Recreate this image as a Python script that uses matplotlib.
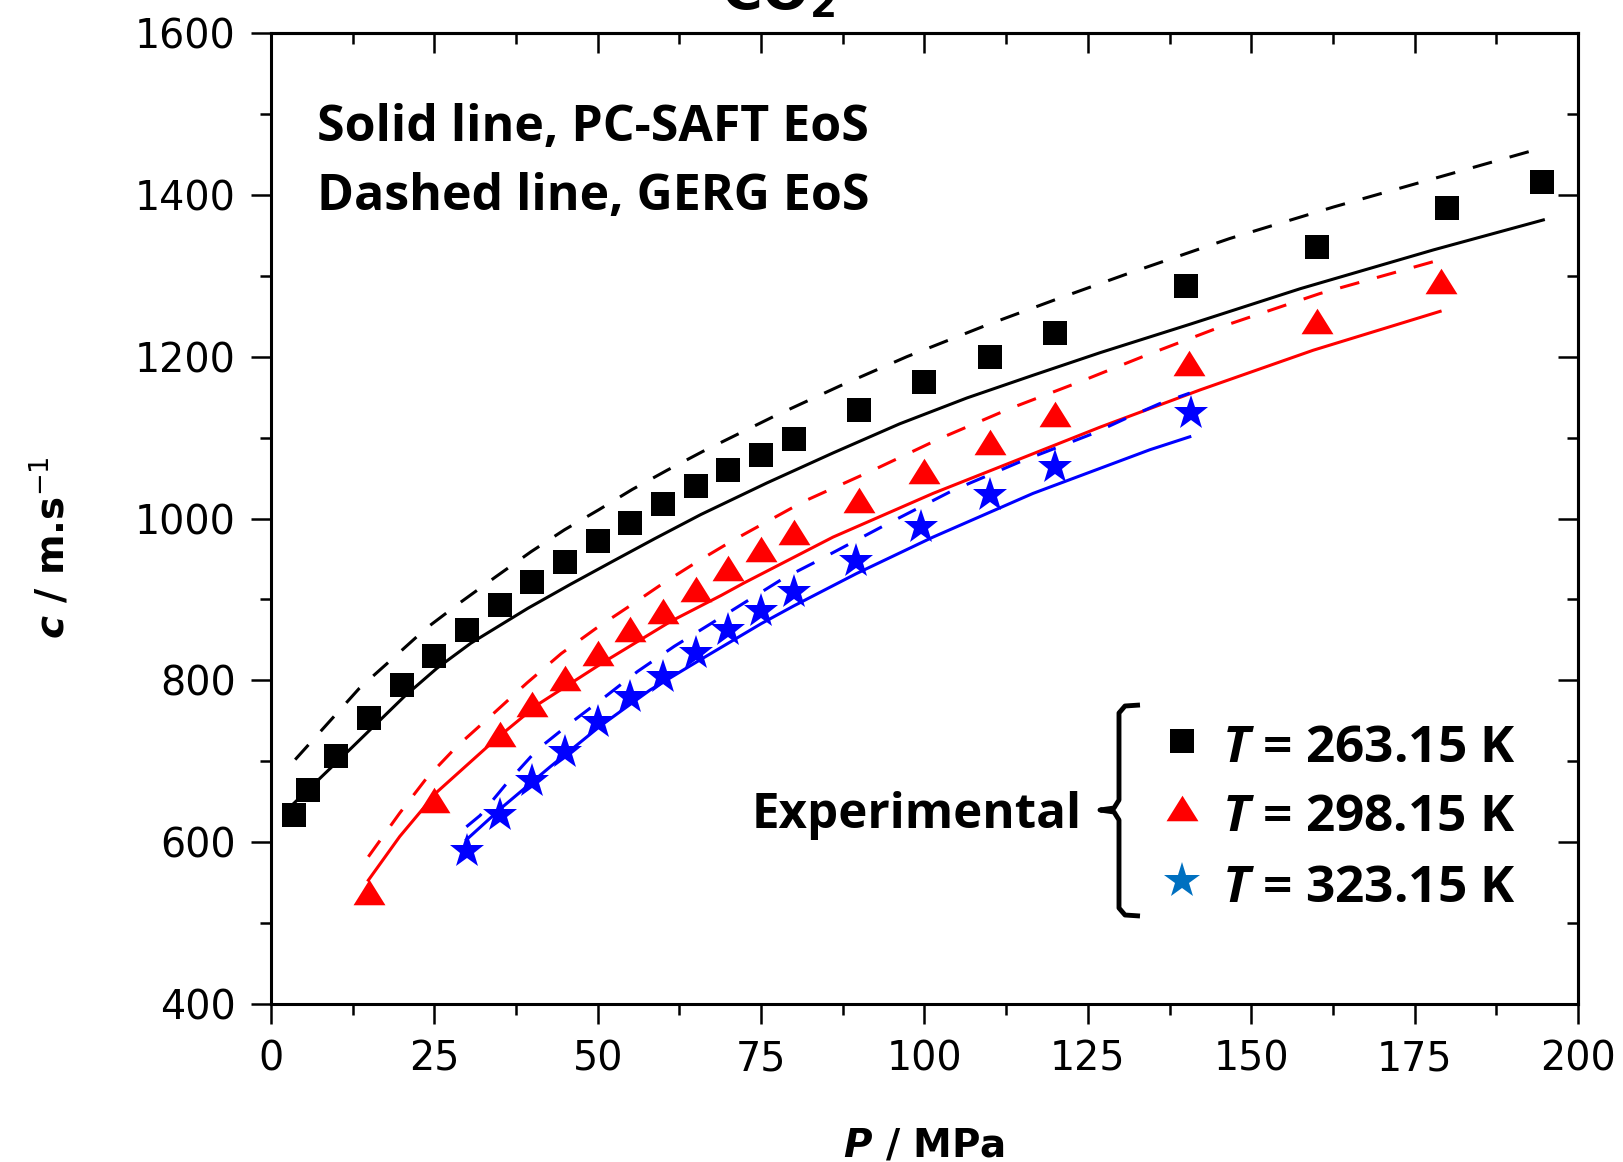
import numpy as np
import matplotlib.pyplot as plt
from matplotlib.ticker import MultipleLocator

plt.rcParams['mathtext.fontset'] = 'custom'
plt.rcParams['mathtext.it'] = 'Open Sans:italic:bold'
plt.rcParams['mathtext.bf'] = 'DejaVu Sans:italic:bold'
plt.rcParams['mathtext.rm'] = 'DejaVu Sans:bold'
plt.rcParams['mathtext.sf'] = 'DejaVu Sans'

# experimental speed of sound, c / m.s-1 vs P / MPa
p_263 = [3.5, 5.7, 10, 15, 20, 25, 30, 35, 40, 45, 50, 55, 60, 65, 70, 75, 80,
         90, 100, 110, 120, 140, 160, 180, 194.5]
c_263 = [634, 664, 706, 753, 794, 830, 862, 893, 921, 946, 972, 995, 1018, 1040,
         1060, 1079, 1098, 1134, 1169, 1200, 1229, 1287, 1335, 1384, 1416]

p_298 = [15, 25, 35, 40, 45, 50, 55, 60, 65, 70, 75, 80, 90, 100, 110, 120,
         140.5, 160, 179]
c_298 = [538, 652, 734, 771, 803, 834, 863, 886, 913, 939, 962, 983, 1023, 1059,
         1095, 1129, 1192, 1244, 1294]

p_323 = [30, 35, 40, 45, 50, 55, 60, 65, 70, 75, 80, 89.5, 99.5, 110, 120, 140.8]
c_323 = [589, 634, 676, 712, 748, 779, 804, 834, 862, 886, 909, 948, 990, 1029,
         1064, 1131]

# PC-SAFT (solid)
ps_263 = [3.5, 7.5, 12, 20.4, 25.4, 30.6, 39.3, 45.9, 52.5, 58.7, 65.8, 75.9, 86,
          96.2, 106.5, 116.6, 126.9, 140.6, 157.5, 177.9, 194.7]
cs_263 = [648, 679, 714, 780, 815, 846, 889, 919, 948, 975, 1005, 1044, 1081,
          1117, 1149, 1177, 1205, 1240, 1284, 1332, 1369]
ps_298 = [14.9, 19.7, 25.4, 34.5, 40.8, 51, 61.2, 68.9, 72.3, 86, 101.3, 116.6,
          126.9, 142.2, 159.5, 178.9]
cs_298 = [553, 607, 662, 728, 770, 823, 873, 905, 920, 977, 1031, 1080, 1113,
          1159, 1208, 1256]
ps_323 = [29.9, 35.5, 42.7, 50.3, 58, 65.6, 75, 80, 89.6, 101.3, 116.6, 134.5, 140.6]
cs_323 = [603, 644, 693, 743, 788, 825, 870, 892, 932, 977, 1031, 1085, 1101]

# GERG (dashed)
pd_263 = [3.7, 13.5, 18.9, 23.7, 29.1, 34.4, 39.8, 44.9, 50.2, 55.3, 60.7, 66.1,
          76.9, 87.1, 97.3, 109.5, 120.2, 130.9, 146.7, 162.6, 177.9, 194.5]
cd_263 = [702, 790, 829, 864, 897, 928, 959, 986, 1011, 1036, 1060, 1083, 1126,
          1164, 1200, 1239, 1271, 1302, 1346, 1385, 1420, 1458]
pd_298 = [14.9, 19.7, 23.8, 28.4, 33.5, 39.2, 44.4, 49.7, 55.1, 60.2, 65.5, 70.7,
          81.5, 92.2, 102.4, 113.1, 123.8, 134, 144.7, 160.5, 179]
cd_298 = [582, 636, 679, 718, 755, 797, 833, 864, 893, 921, 948, 973, 1021, 1060,
          1099, 1136, 1169, 1202, 1235, 1278, 1320]
pd_323 = [29.9, 32, 36.1, 40.7, 45.8, 51.5, 56.1, 61.7, 67.3, 78.4, 83, 94, 104.4,
          114.6, 125.8, 130.9, 136, 140.6]
cd_323 = [619, 633, 673, 714, 747, 782, 811, 842, 870, 926, 945, 992, 1035, 1070,
          1105, 1124, 1142, 1155]

legend_labels = ['$T$ = 263.15 K', '$T$ = 298.15 K', '$T$ = 323.15 K']

fig = plt.figure(figsize=(16.23, 11.62), dpi=100)
ax = fig.add_axes([0.16697, 0.13597, 0.80530, 0.83563])

dash = (0, (6.5, 6))
ax.plot(ps_263, cs_263, color='black', lw=2.2, zorder=2)
ax.plot(pd_263, cd_263, color='black', lw=2.2, ls=dash, zorder=2)
ax.plot(ps_298, cs_298, color='red', lw=2.2, zorder=2)
ax.plot(pd_298, cd_298, color='red', lw=2.2, ls=dash, zorder=2)
ax.plot(ps_323, cs_323, color='blue', lw=2.2, zorder=2)
ax.plot(pd_323, cd_323, color='blue', lw=2.2, ls=dash, zorder=2)

tri = [(0, 0.8), (-1, -0.8), (1, -0.8), (0, 0.8)]
ax.plot(p_263, c_263, ls='none', marker='s', ms=17.5, color='black', mew=0, zorder=3)
ax.plot(p_298, c_298, ls='none', marker=tri, ms=23, color='red', mew=0, zorder=3)
ax.plot(p_323, c_323, ls='none', marker='*', ms=26, color='blue', mew=0, zorder=3)

ax.set_xlim(0, 200)
ax.set_ylim(400, 1600)
ax.xaxis.set_major_locator(MultipleLocator(25))
ax.xaxis.set_minor_locator(MultipleLocator(12.5))
ax.yaxis.set_major_locator(MultipleLocator(200))
ax.yaxis.set_minor_locator(MultipleLocator(100))
ax.tick_params(which='major', direction='out', length=14.4, width=1.8,
               labelsize=28.5, pad=11)
ax.tick_params(which='minor', direction='out', length=8, width=1.8)
for s in ax.spines.values():
    s.set_linewidth(2.2)

# inward ticks on top and right
top = ax.secondary_xaxis('top')
top.xaxis.set_major_locator(MultipleLocator(25))
top.xaxis.set_minor_locator(MultipleLocator(12.5))
top.tick_params(which='major', direction='in', length=14.4, width=1.8, labeltop=False)
top.tick_params(which='minor', direction='in', length=8, width=1.8)
right = ax.secondary_yaxis('right')
right.yaxis.set_major_locator(MultipleLocator(200))
right.yaxis.set_minor_locator(MultipleLocator(100))
right.tick_params(which='major', direction='in', length=14.4, width=1.8, labelright=False)
right.tick_params(which='minor', direction='in', length=8, width=1.8)
for s in list(top.spines.values()) + list(right.spines.values()):
    s.set_linewidth(2.2)

ax.set_xlabel(r'$\mathbf{P}$ / MPa', fontsize=28, fontweight='bold')
ax.set_ylabel(r'$\mathbf{c}$ / m.s$^{\mathsf{-1}}$', fontsize=28, fontweight='bold')
ax.xaxis.set_label_coords(0.5, -0.126)
ax.yaxis.set_label_coords(-0.152, 0.47)

fig.text(0.444, 1 - 8 / 1162, 'CO$_2$', fontsize=40, fontweight='bold', va='baseline')

ax.text(0.035, 0.889, 'Solid line, PC-SAFT EoS', family='Open Sans', fontweight='bold',
        fontsize=36, transform=ax.transAxes, va='baseline')
ax.text(0.035, 0.818, 'Dashed line, GERG EoS', family='Open Sans', fontweight='bold',
        fontsize=36, transform=ax.transAxes, va='baseline')

# hand-made legend with brace
mk_x = 0.697
leg_y = [0.271, 0.202, 0.127]
ax.plot([mk_x], [leg_y[0]], marker='s', ms=17.5, color='black', mew=0,
        transform=ax.transAxes, clip_on=False)
ax.plot([mk_x], [leg_y[1]], marker=tri, ms=23, color='red', mew=0,
        transform=ax.transAxes, clip_on=False)
ax.plot([mk_x], [leg_y[2]], marker='*', ms=27, color='#0070C0', mew=0,
        transform=ax.transAxes, clip_on=False)
for lab, yb in zip(legend_labels, [0.249, 0.178, 0.105]):
    ax.text(0.728, yb, lab, family='Open Sans', fontweight='bold', fontsize=37,
            transform=ax.transAxes, va='baseline')
ax.text(0.620, 0.181, 'Experimental', family='Open Sans', fontweight='bold', fontsize=35.5,
        transform=ax.transAxes, va='baseline', ha='right')

bx = [1140, 1125, 1119, 1119, 1114, 1100, 1114, 1119, 1119, 1125, 1140]
by = [705, 706, 713, 800, 808, 810, 812, 820, 908, 915, 916]
bx = [(v - 271) / 1307 for v in bx]
by = [(1004 - v) / 971 for v in by]
ax.plot(bx, by, color='black', lw=3.5, transform=ax.transAxes, clip_on=False,
        solid_joinstyle='round', solid_capstyle='butt')

fig.savefig('out.png', dpi=100)
